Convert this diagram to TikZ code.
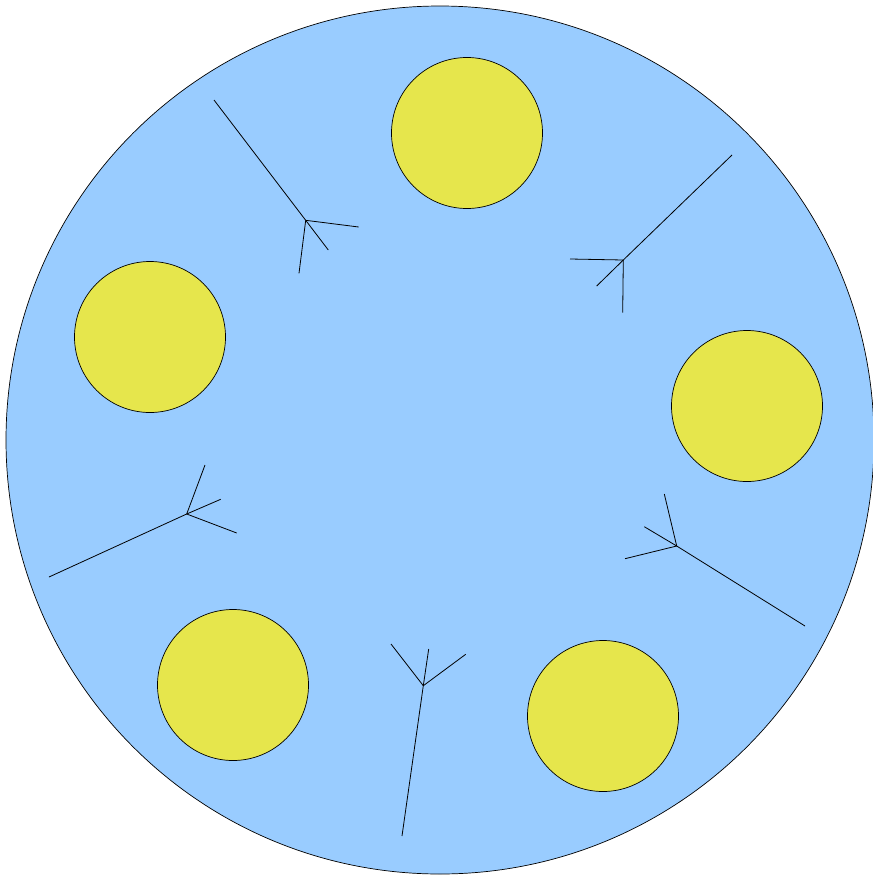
\documentclass[tikz,border=0pt]{standalone}
\usepackage{tikz}
\usetikzlibrary{positioning}
\definecolor{cellblue}{RGB}{153,204,255}
\definecolor{dotyellow}{RGB}{230,230,76}
\tikzset{
  cell/.style={draw,circle,fill=cellblue,inner sep=0pt,minimum size=868pt,line width=0.7pt},
  grain/.style={draw,circle,fill=dotyellow,inner sep=0pt,minimum size=151pt,line width=0.7pt},
  arm/.style={line width=0.8pt},
}

\begin{document}
\begin{tikzpicture}[x=1pt,y=-1pt]
  \useasboundingbox (0,0) rectangle (873,876);
  \node[cell] (ring) at (440,440) {};
  \node[grain] (gtop) at (467,133) {};
  \node[grain] (gleft) at (150,337) {};
  \node[grain] (gright) at (747,406) {};
  \node[grain] (gbl) at (233,685) {};
  \node[grain] (gbr) at (603,716) {};
  % forks
  \coordinate (fa) at (305.7,220.3);
  \coordinate (fb) at (623.3,260);
  \coordinate (fc) at (186.7,514);
  \coordinate (fd) at (676.7,546);
  \coordinate (fe) at (423.3,685.7);
  % stem ends
  \coordinate (sa) at (214,100);
  \coordinate (sb) at (732,155);
  \coordinate (sc) at (49,577);
  \coordinate (sd) at (805,626);
  \coordinate (se) at (402,836);
  \draw[arm] (sa) -- (fa);
  \draw[arm] (fa) -- (358.7,227);
  \draw[arm] (fa) -- (328.3,250);
  \draw[arm] (fa) -- (299,273.3);
  \draw[arm] (sb) -- (fb);
  \draw[arm] (fb) -- (570,259);
  \draw[arm] (fb) -- (596.7,286);
  \draw[arm] (fb) -- (622.7,312.7);
  \draw[arm] (sc) -- (fc);
  \draw[arm] (fc) -- (205,465);
  \draw[arm] (fc) -- (220.7,499.3);
  \draw[arm] (fc) -- (236.7,533);
  \draw[arm] (sd) -- (fd);
  \draw[arm] (fd) -- (664.3,494);
  \draw[arm] (fd) -- (644.3,526.7);
  \draw[arm] (fd) -- (625,558.7);
  \draw[arm] (se) -- (fe);
  \draw[arm] (fe) -- (391,644);
  \draw[arm] (fe) -- (428.7,649);
  \draw[arm] (fe) -- (465.7,654.3);
\end{tikzpicture}
\end{document}
